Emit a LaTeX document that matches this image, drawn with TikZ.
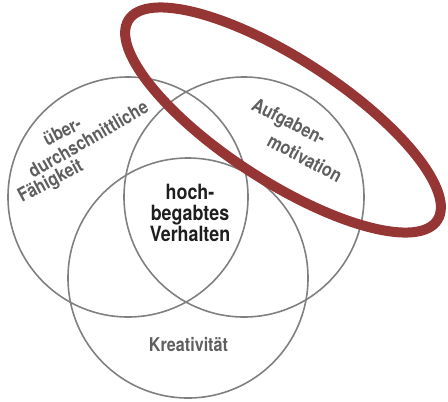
\documentclass[tikz,border=0pt]{standalone}
\usepackage{fontspec}
\setmainfont{TeX Gyre Heros}[FakeStretch=0.85]
\definecolor{ringgray}{RGB}{128,128,128}
\definecolor{labelgray}{RGB}{95,95,95}
\definecolor{corecolor}{RGB}{30,30,30}
\definecolor{markred}{RGB}{150,54,52}
\begin{document}
\begin{tikzpicture}[x=1bp,y=-1bp,
  ring/.style={draw=ringgray,line width=1.6bp},
  outerlabel/.style={text=labelgray,font=\bfseries\fontsize{19bp}{19bp}\selectfont,inner sep=0pt},
  corelabel/.style={text=corecolor,font=\bfseries\fontsize{21bp}{21bp}\selectfont,inner sep=0pt,anchor=base},
  highlight/.style={draw=markred,line width=10bp}]
\useasboundingbox (0,0) rectangle (448,401);
% the three overlapping rings
\draw[ring] (128,197) circle [radius=120];
\draw[ring] (244,197) circle [radius=120];
\draw[ring] (188,278) circle [radius=120];
% ring labels
\node[outerlabel,rotate=27] (ueber) at (62,131) {über-};
\node[outerlabel,rotate=30] (durch) at (88,139) {durchschnittliche};
\node[outerlabel,rotate=28] (faeh) at (51,182) {Fähigkeit};
\node[outerlabel,rotate=-27] (aufg) at (288,123) {Aufgaben-};
\node[outerlabel,rotate=-28] (motiv) at (305,158) {motivation};
\node[outerlabel,anchor=base] (krea) at (188.5,351) {Kreativität};
% intersection label
\node[corelabel] (hoch) at (190,199) {hoch-};
\node[corelabel] (begabt) at (190,220) {begabtes};
\node[corelabel] (verh) at (190,241) {Verhalten};
% emphasis loop
\draw[highlight,rotate around={-33:(283,120)}] (283,120) ellipse [x radius=184, y radius=61];
\end{tikzpicture}
\end{document}
